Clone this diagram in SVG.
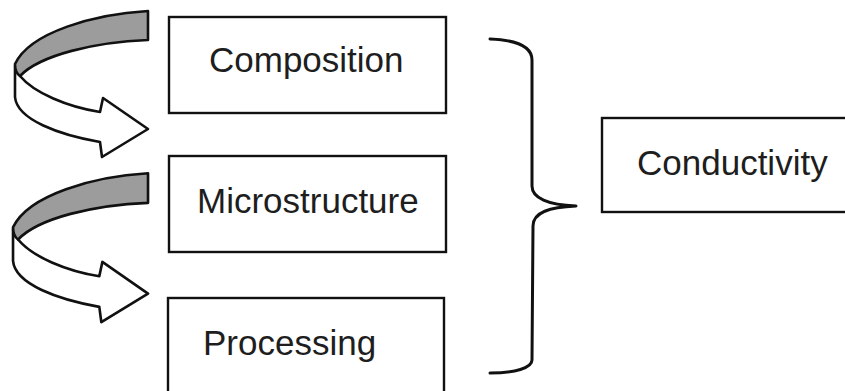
<svg xmlns="http://www.w3.org/2000/svg" width="845" height="391" viewBox="0 0 845 391">
<style>
.box{fill:#fff;stroke:#111;stroke-width:2.4}
.lbl{font-family:"Liberation Sans",Arial,sans-serif;font-size:35px;fill:#1e1e1e}
.back{fill:#9c9c9c;stroke:#111;stroke-width:2.6;stroke-linejoin:round}
.front{fill:#fff;stroke:#111;stroke-width:2.6;stroke-linejoin:round}
.brace{fill:none;stroke:#111;stroke-width:3;stroke-linecap:round;stroke-linejoin:round}
</style>
<defs>
<g id="twist">
<path class="front" d="M20,76 C34,93 68,107 100,112 L103,98 L148,129 L102,157 L100,142 C60,135 17,120 15,97 L15,66 Z"/>
<path class="back" d="M148,11 C95,14 30,32 15,64 C15,70 17,74 20,76 C40,55 95,42 148,40 Z"/>
</g>
</defs>
<rect width="845" height="391" fill="#fff"/>
<g id="connectors">
<use href="#twist"/>
<use href="#twist" transform="translate(-2.2,162) scale(1.015,1.02)"/>
<path class="brace" d="M490,39 C515,40 532,46 532,60 L532,186 C532,198 548,205 576,206 C550,207 533,212 533,226 L532,360 C532,368 515,373 490,373"/>
</g>
<g id="composition">
<rect class="box" x="169" y="17" width="277" height="96"/>
<text class="lbl" x="209" y="72">Composition</text>
</g>
<g id="microstructure">
<rect class="box" x="169" y="156" width="277" height="96"/>
<text class="lbl" x="197" y="213">Microstructure</text>
</g>
<g id="processing">
<rect class="box" x="168" y="298" width="276" height="100"/>
<text class="lbl" x="203" y="355">Processing</text>
</g>
<g id="conductivity">
<rect class="box" x="602" y="118" width="260" height="94"/>
<text class="lbl" x="637" y="175">Conductivity</text>
</g>
</svg>
